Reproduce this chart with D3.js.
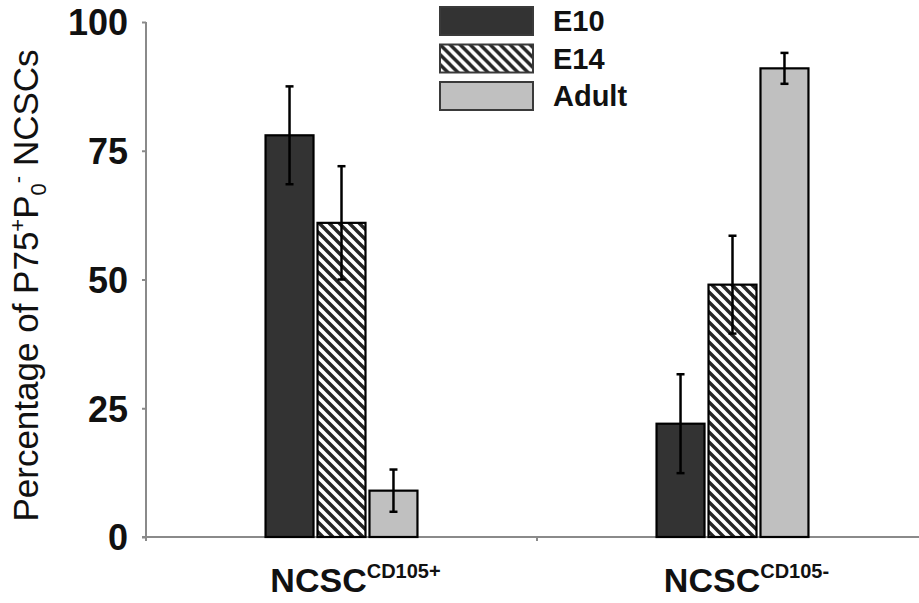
<!DOCTYPE html>
<html>
<head>
<meta charset="utf-8">
<script src="https://cdn.jsdelivr.net/npm/d3@7"></script>
<style>
  html, body { margin: 0; padding: 0; background: #ffffff; }
  svg { display: block; }
</style>
</head>
<body>
<svg id="chart" width="919" height="603"></svg>
<script>
// Cell groups on the x axis (main text + superscript)
const categories = ["NCSC CD105+", "NCSC CD105-"];
const categoryMain = ["NCSC", "NCSC"];
const categorySup = ["CD105+", "CD105-"];

// Developmental stages, one bar each per group
const series = ["E10", "E14", "Adult"];

// Percentage of P75+P0- NCSCs, per stage, per group
const valuesE10 = [78, 22];
const valuesE14 = [61, 49];
const valuesAdult = [9, 91];

// Error bar half-widths (±)
const errE10 = [9.5, 9.6];
const errE14 = [11, 9.5];
const errAdult = [4.1, 3];

const yTicks = [0, 25, 50, 75, 100];

const values = { E10: valuesE10, E14: valuesE14, Adult: valuesAdult };
const errors = { E10: errE10, E14: errE14, Adult: errAdult };

const svg = d3.select("#chart");

const plotLeft = 146, plotRight = 928, plotTop = 22, plotBottom = 537;

const x0 = d3.scaleBand().domain(categories).range([plotLeft, plotRight]).padding(0);
const x1 = d3.scaleBand().domain(series).range([0, x0.bandwidth()])
  .paddingInner(0.077).paddingOuter(2.3);
const y = d3.scaleLinear().domain([0, 100]).range([plotBottom, plotTop]);

// Diagonal hatch for the E14 bars
const defs = svg.append("defs");
const pat = defs.append("pattern")
  .attr("id", "hatch")
  .attr("patternUnits", "userSpaceOnUse")
  .attr("width", 10).attr("height", 10);
pat.append("rect").attr("width", 10).attr("height", 10).attr("fill", "#ffffff");
pat.append("path")
  .attr("d", "M-5,-5 L15,15 M-5,5 L5,15 M5,-5 L15,5")
  .attr("stroke", "#262626").attr("stroke-width", 3.4);

const fills = { E10: "#333333", E14: "url(#hatch)", Adult: "#c0c0c0" };

// Y axis
const yAxis = d3.axisLeft(y).tickValues(yTicks).tickSize(4).tickPadding(14);
const gy = svg.append("g").attr("transform", `translate(${plotLeft},0)`).call(yAxis);
gy.select(".domain").attr("stroke", "#8a8a8a").attr("stroke-width", 2)
  .attr("d", `M0,${plotBottom}V${plotTop}`);
gy.selectAll(".tick line").attr("stroke", "#8a8a8a").attr("stroke-width", 2);
gy.selectAll(".tick text")
  .attr("font-family", "Liberation Sans, Arial, sans-serif")
  .attr("font-weight", "bold").attr("font-size", 36).attr("fill", "#111")
  .attr("dy", "0.36em");

// X axis: baseline with category boundary ticks
const gx = svg.append("g");
gx.append("line")
  .attr("x1", plotLeft - 4).attr("x2", plotRight).attr("y1", plotBottom).attr("y2", plotBottom)
  .attr("stroke", "#8a8a8a").attr("stroke-width", 2);
const bounds = categories.map(c => x0(c)).concat([x0(categories[categories.length - 1]) + x0.bandwidth()]);
gx.selectAll("line.bt").data(bounds).join("line").attr("class", "bt")
  .attr("x1", d => d).attr("x2", d => d)
  .attr("y1", plotBottom).attr("y2", plotBottom + 4)
  .attr("stroke", "#8a8a8a").attr("stroke-width", 2);

// Bars
const groups = svg.append("g").selectAll("g")
  .data(categories).join("g")
  .attr("transform", d => `translate(${x0(d)},0)`);

groups.selectAll("rect")
  .data((c, i) => series.map(s => ({ s, v: values[s][i], e: errors[s][i] })))
  .join("rect")
  .attr("x", d => x1(d.s))
  .attr("y", d => y(d.v))
  .attr("width", x1.bandwidth())
  .attr("height", d => y(0) - y(d.v))
  .attr("fill", d => fills[d.s])
  .attr("stroke", "#000").attr("stroke-width", 2.2);

// Error bars
const eb = groups.selectAll("g.err")
  .data((c, i) => series.map(s => ({ s, v: values[s][i], e: errors[s][i] })))
  .join("g").attr("class", "err")
  .attr("stroke", "#000").attr("stroke-width", 2.5);
eb.append("line")
  .attr("x1", d => x1(d.s) + x1.bandwidth() / 2).attr("x2", d => x1(d.s) + x1.bandwidth() / 2)
  .attr("y1", d => y(d.v + d.e)).attr("y2", d => y(d.v - d.e));
eb.append("line")
  .attr("x1", d => x1(d.s) + x1.bandwidth() / 2 - 4).attr("x2", d => x1(d.s) + x1.bandwidth() / 2 + 4)
  .attr("y1", d => y(d.v + d.e)).attr("y2", d => y(d.v + d.e));
eb.append("line")
  .attr("x1", d => x1(d.s) + x1.bandwidth() / 2 - 4).attr("x2", d => x1(d.s) + x1.bandwidth() / 2 + 4)
  .attr("y1", d => y(d.v - d.e)).attr("y2", d => y(d.v - d.e));

// Category labels
const xl = svg.append("g").selectAll("text")
  .data(categories).join("text")
  .attr("x", d => x0(d) + x0.bandwidth() / 2 + 14)
  .attr("y", 592)
  .attr("text-anchor", "middle")
  .attr("font-family", "Liberation Sans Narrow, Arial Narrow, sans-serif")
  .attr("font-weight", "bold").attr("font-size", 34).attr("fill", "#111");
xl.append("tspan").text((d, i) => categoryMain[i]);
xl.append("tspan").attr("font-size", 20).attr("dy", -14).text((d, i) => categorySup[i]);

// Y axis title
const yt = svg.append("text")
  .attr("transform", `translate(38,${(plotTop + plotBottom) / 2 + 6}) rotate(-90)`)
  .attr("text-anchor", "middle")
  .attr("font-family", "Liberation Sans, Arial, sans-serif")
  .attr("font-size", 35).attr("fill", "#111");
yt.append("tspan").text("Percentage of P75");
yt.append("tspan").attr("font-size", 22).attr("dy", -13).text("+");
yt.append("tspan").attr("dy", 13).text("P");
yt.append("tspan").attr("font-size", 22).attr("dy", 8).text("0");
yt.append("tspan").attr("font-size", 22).attr("dy", -21).text("-");
yt.append("tspan").attr("dy", 13).text(" NCSCs");

// Legend
const legend = svg.append("g").attr("transform", "translate(440,7)");
const li = legend.selectAll("g").data(series).join("g")
  .attr("transform", (d, i) => `translate(0,${i * 37.5})`);
li.append("rect")
  .attr("width", 93).attr("height", 28)
  .attr("fill", d => fills[d])
  .attr("stroke", "#3a3a3a").attr("stroke-width", 2);
li.append("text")
  .attr("x", 113).attr("y", 14).attr("dy", "0.36em")
  .attr("font-family", "Liberation Sans, Arial, sans-serif")
  .attr("font-weight", "bold").attr("font-size", 29).attr("fill", "#111")
  .text(d => d);
</script>
</body>
</html>
